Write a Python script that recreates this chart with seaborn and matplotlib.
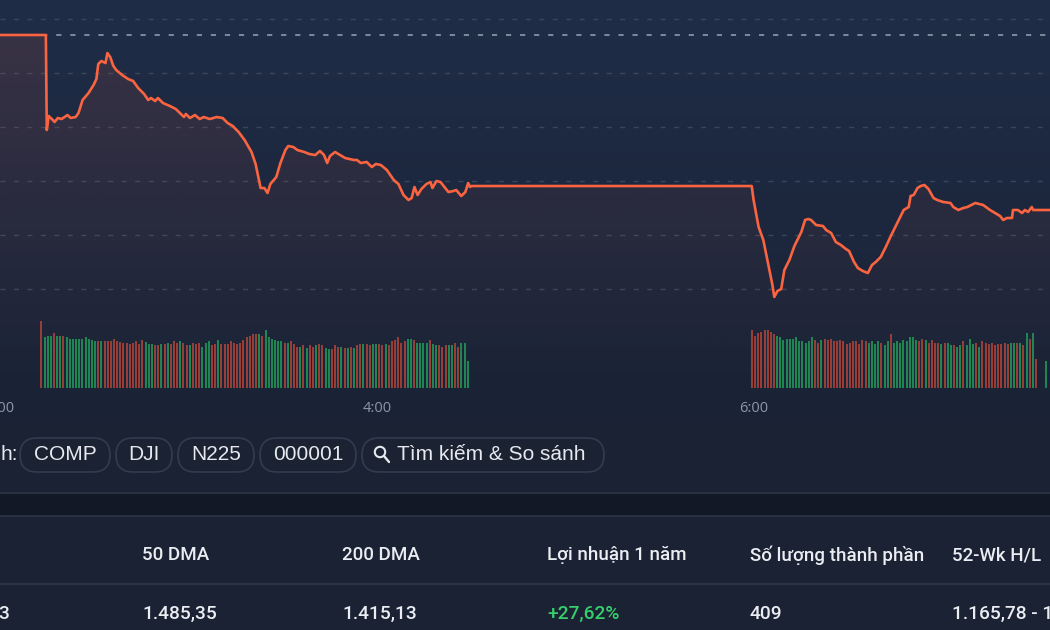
import numpy as np
import pandas as pd
import matplotlib
matplotlib.use("Agg")
import matplotlib.pyplot as plt
import seaborn as sns
from matplotlib.colors import to_rgb
from matplotlib.patches import FancyBboxPatch, Circle, PathPatch, Rectangle

# price line: minutes after 2:00 and index level
price_min = [0.0, 14.6, 14.9, 15.5, 16.5, 17.4, 18.4, 19.6, 21.5, 22.5, 24.1, 25.0,
             26.3, 28.2, 29.8, 30.7, 31.3, 32.3, 33.6, 34.2, 35.1, 36.1, 37.0, 38.9,
             40.8, 42.4, 44.0, 45.9, 47.2, 48.1, 49.4, 50.3, 51.9, 54.1, 56.0, 57.3,
             58.6, 59.2, 60.5, 62.1, 63.6, 64.9, 66.8, 69.0, 70.9, 72.5, 74.1, 76.0,
             77.9, 80.1, 81.4, 83.0, 84.2, 85.2, 86.1, 88.0, 89.3, 90.9, 91.8, 93.4,
             94.7, 96.9, 98.5, 100.4, 101.9, 103.2, 104.2, 105.1, 106.7, 108.3, 109.9,
             112.7, 113.7, 114.9, 116.8, 118.4, 119.7, 121.3, 123.2, 125.4, 126.9,
             128.5, 130.1, 131.1, 132.0, 133.0, 134.2, 135.8, 137.1, 137.7, 139.0,
             140.3, 142.8, 144.4, 145.3, 146.9, 148.2, 149.1, 149.7, 150.1, 239.4,
             240.0, 241.6, 243.1, 244.7, 246.0, 246.6, 247.6, 248.8, 249.8, 251.4,
             253.0, 255.2, 256.4, 257.4, 258.3, 259.9, 262.1, 263.1, 264.7, 266.2,
             267.8, 269.4, 270.4, 272.0, 273.2, 274.8, 276.4, 277.7, 278.9, 280.5,
             282.1, 283.7, 285.9, 287.8, 289.4, 290.0, 291.0, 292.2, 293.2, 294.4,
             295.7, 297.3, 298.5, 300.4, 302.7, 303.6, 305.2, 306.8, 308.1, 310.6,
             313.1, 315.3, 318.5, 319.5, 320.7, 322.3, 322.6, 324.2, 325.5, 326.4,
             327.4, 328.6, 329.0, 334.4]
price_val = [1527.04, 1527.04, 1509.44, 1512.04, 1511.48, 1510.93, 1511.67, 1511.48,
             1512.22, 1511.67, 1511.85, 1512.59, 1515.00, 1516.30, 1517.78, 1518.89,
             1521.67, 1522.22, 1521.85, 1523.70, 1522.96, 1521.30, 1520.56, 1519.63,
             1518.89, 1518.52, 1517.22, 1516.11, 1515.00, 1515.37, 1514.81, 1515.37,
             1514.44, 1513.89, 1513.33, 1512.59, 1511.85, 1512.41, 1511.67, 1512.22,
             1511.48, 1511.85, 1511.48, 1511.85, 1511.67, 1510.74, 1510.19, 1509.07,
             1507.59, 1505.37, 1503.15, 1498.70, 1498.70, 1497.78, 1499.44, 1500.74,
             1503.33, 1505.74, 1506.48, 1506.30, 1505.74, 1505.37, 1505.00, 1504.81,
             1505.56, 1504.81, 1503.33, 1504.63, 1505.37, 1504.81, 1504.26, 1503.89,
             1503.89, 1503.33, 1503.52, 1502.59, 1503.15, 1502.96, 1502.04, 1500.19,
             1499.44, 1497.41, 1496.48, 1496.85, 1498.89, 1497.41, 1498.52, 1499.44,
             1499.81, 1498.70, 1500.00, 1499.81, 1497.96, 1498.15, 1498.33, 1497.22,
             1497.96, 1499.63, 1498.89, 1499.07, 1499.07, 1496.48, 1491.48, 1489.07,
             1484.44, 1480.74, 1478.52, 1479.63, 1480.00, 1483.52, 1485.37, 1487.96,
             1490.56, 1492.78, 1492.96, 1492.78, 1491.85, 1491.67, 1490.93, 1490.37,
             1488.70, 1488.15, 1487.41, 1487.04, 1485.00, 1483.89, 1483.33, 1482.96,
             1484.44, 1485.00, 1485.93, 1487.78, 1489.81, 1492.41, 1494.63, 1495.19,
             1497.22, 1497.41, 1498.70, 1499.07, 1499.26, 1498.52, 1496.85, 1496.48,
             1496.11, 1495.93, 1495.19, 1494.63, 1495.00, 1495.19, 1495.93, 1495.56,
             1494.63, 1493.52, 1492.78, 1493.15, 1493.15, 1494.63, 1494.63, 1494.07,
             1494.63, 1494.26, 1495.19, 1494.63, 1494.63]
prev_close = 1527.04

# volume, one bar per minute (r = down minute, g = up minute)
vol_min = list(range(15, 151)) + list(range(240, 331)) + [333]
vol_val = [203, 153, 157, 157, 165, 158, 158, 157, 153, 149, 149, 149, 149, 149, 153,
           149, 146, 142, 142, 142, 142, 142, 142, 149, 142, 138, 137, 137, 133, 137,
           142, 133, 146, 138, 133, 133, 129, 129, 133, 133, 137, 133, 142, 137, 142,
           137, 129, 129, 137, 133, 137, 125, 137, 142, 129, 133, 146, 133, 133, 133,
           142, 137, 133, 137, 146, 153, 157, 162, 162, 162, 157, 174, 153, 149, 146,
           142, 142, 137, 137, 142, 133, 125, 125, 129, 121, 129, 125, 129, 133, 129,
           121, 117, 117, 129, 125, 125, 121, 121, 125, 121, 129, 133, 133, 133, 129,
           133, 133, 133, 129, 133, 129, 142, 146, 153, 137, 142, 149, 149, 146, 137,
           137, 137, 137, 146, 133, 129, 129, 125, 129, 129, 129, 137, 125, 137, 137, 81,
           174, 157, 165, 170, 174, 174, 170, 162, 157, 153, 146, 149, 149, 149, 153,
           142, 142, 137, 142, 153, 146, 137, 146, 149, 146, 149, 142, 142, 146, 142,
           133, 137, 142, 142, 133, 146, 142, 137, 142, 133, 142, 137, 129, 142, 162,
           137, 142,
           137, 146, 142, 153, 153, 146, 142, 149, 146, 137, 146, 137, 137, 133, 137,
           137, 129, 129, 125, 129, 142, 129, 149, 133, 137, 125, 142, 137, 133, 137,
           129, 133, 133, 137, 133, 137, 137, 137, 137, 129, 165, 149, 165, 88,
           81]
vol_dir = ("rgggr ggrgg ggggg gggrg rrrrr rrrrr rrrgg grrgr grrrg "
           "rrgrr rgggr rgrrr rrrrr rrrrg rgggg ggrgr rrgrg rrgrr "
           "ggrrr grgrg rrgrr ggrrg rrrrr rggrg gggrg grrrg grrgg g "
           "rrrrr rrrgg ggggg ggggg rrgrr rrrrr rrrrr rrggg grggr gg "
           "ggggg grrgr rrrgr ggrgg rgggr grrrr rrrrr ggrgr grgr "
           "g").replace(" ", "")

x_ticks = [0, 120, 240]
x_labels = ["2:00", "4:00", "6:00"]
grid_levels = [1480, 1490, 1500, 1510, 1520, 1530]

compare_label = "h:"
compare_tags = ["COMP", "DJI", "N225", "000001"]
search_label = "Tìm kiếm & So sánh"
stat_headers = ["50 DMA", "200 DMA", "Lợi nhuận 1 năm", "Số lượng thành phần", "52-Wk H/L"]
stat_values = ["1.485,35", "1.415,13", "+27,62%", "409", "1.165,78 - 1."]
stat_first_tail = "3"

sns.set_theme(style="dark")
plt.rcParams["font.family"] = ["Open Sans", "DejaVu Sans"]

W, H = 1050, 630
fig = plt.figure(figsize=(10.5, 6.3), dpi=100)

# page background
bg = fig.add_axes([0, 0, 1, 1])
top_c = np.array(to_rgb("#1f2d47"))
low_c = np.array(to_rgb("#1a2235"))
shade = np.linspace(0, 1, 420)[:, None]
grad = top_c + (low_c - top_c) * shade
page = np.vstack([grad, np.tile(to_rgb("#1b2233"), (210, 1))])
bg.imshow(page[:, None, :], extent=[0, W, H, 0], aspect="auto", zorder=0)
bg.set_xlim(0, W)
bg.set_ylim(H, 0)
bg.axis("off")

# price panel
t0, t1 = 1.9, 334.4
ymin, ymax = 1460.37, 1533.52
ax = fig.add_axes([0, (H - 395) / H, 1, 395 / H])
ax.set_facecolor("none")
line_c = "#fa6440"

for lvl in grid_levels:
    ax.axhline(lvl, color="#3a465b", lw=1, dashes=(3.6, 6.1), zorder=1)
ax.axhline(prev_close, color="#9aa3b1", lw=1.1, dashes=(3.4, 5.8), zorder=1)

fill = ax.fill_between(price_min, price_val, ymin, facecolor="none", edgecolor="none")
clip = PathPatch(fill.get_paths()[0], transform=ax.transData, facecolor="none", edgecolor="none")
ax.add_patch(clip)
rgba = np.zeros((256, 1, 4))
rgba[..., :3] = to_rgb(line_c)
rgba[..., 3] = np.linspace(0.12, 0.0, 256)[:, None]
im = ax.imshow(rgba, extent=[-20, 360, ymin, prev_close], aspect="auto", zorder=2)
im.set_clip_path(clip)

sns.lineplot(x=price_min, y=price_val, ax=ax, color=line_c, linewidth=1.9,
             estimator=None, sort=False, zorder=4)

ax.set_xlim(t0, t1)
ax.set_ylim(ymin, ymax)
ax.set_xticks(x_ticks, x_labels)
ax.set_yticks([])
ax.tick_params(axis="x", length=0, pad=4, labelsize=10.5, labelcolor="#8e97a8")
ax.set_xlabel("")
ax.set_ylabel("")
for s in ax.spines.values():
    s.set_visible(False)

# volume panel
vax = fig.add_axes([0, (H - 388.3) / H, 1, 80 / H])
vax.set_facecolor("none")
vol_df = pd.DataFrame({"minute": vol_min, "vol": vol_val, "dir": list(vol_dir)})
sns.barplot(data=vol_df, x="minute", y="vol", hue="dir",
            palette={"r": "#963f38", "g": "#1f8653"}, native_scale=True,
            width=0.62, dodge=False, saturation=1, legend=False, errorbar=None,
            linewidth=0, ax=vax)
vax.set_xlim(t0, t1)
vax.set_ylim(0, 240)
vax.axis("off")

# compare row
txt_c = "#e6e9ef"
pill_font = ["Liberation Sans", "DejaVu Sans"]
bg.text(0, 455, compare_label, ha="left", va="center", fontsize=15, color=txt_c, family=pill_font)
pill_x = [(20, 110), (116, 172), (178, 254), (260, 356)]
for (a, b), tag in zip(pill_x, compare_tags):
    bg.add_patch(FancyBboxPatch((a, 438), b - a, 34, boxstyle="round,pad=0,rounding_size=17",
                                fc="#1b2232", ec="#333c4e", lw=1.2, zorder=2))
    bg.text((a + b) / 2, 455, tag, ha="center", va="center", fontsize=15, color=txt_c,
            family=pill_font, zorder=3)
bg.add_patch(FancyBboxPatch((362, 438), 242, 34, boxstyle="round,pad=0,rounding_size=17",
                            fc="#1b2232", ec="#333c4e", lw=1.2, zorder=2))
bg.add_patch(Circle((380, 452), 5.2, fill=False, ec=txt_c, lw=1.5, zorder=3))
bg.plot([384, 389], [456, 462], color=txt_c, lw=1.7, zorder=3, solid_capstyle="round")
bg.text(397, 455, search_label, ha="left", va="center", fontsize=15, color=txt_c,
        family=pill_font, zorder=3)

# stats table
bg.add_patch(Rectangle((0, 494), W, 22, fc="#121826", ec="none", zorder=1))
bg.plot([0, W], [493, 493], color="#283142", lw=1.5, zorder=2)
bg.plot([0, W], [516, 516], color="#283142", lw=1.5, zorder=2)
bg.plot([0, W], [584, 584], color="#2b3445", lw=1.5, zorder=2)

col_x = [142, 342, 547, 750, 952]
head_font = ["Roboto", "DejaVu Sans"]
for x, hdr, val in zip(col_x, stat_headers, stat_values):
    bg.text(x, 555, hdr, ha="left", va="center", fontsize=13.5, weight="medium",
            color="#eaedf2", family=head_font)
    vc = "#35d06b" if val.startswith("+") else "#eaedf2"
    bg.text(x, 614, val, ha="left", va="center", fontsize=13.8, weight="medium",
            color=vc, family=head_font)
bg.text(9, 614, stat_first_tail, ha="right", va="center", fontsize=13.8, weight="medium",
        color="#eaedf2", family=head_font)

fig.savefig("out.png", dpi=100, facecolor=fig.get_facecolor())
